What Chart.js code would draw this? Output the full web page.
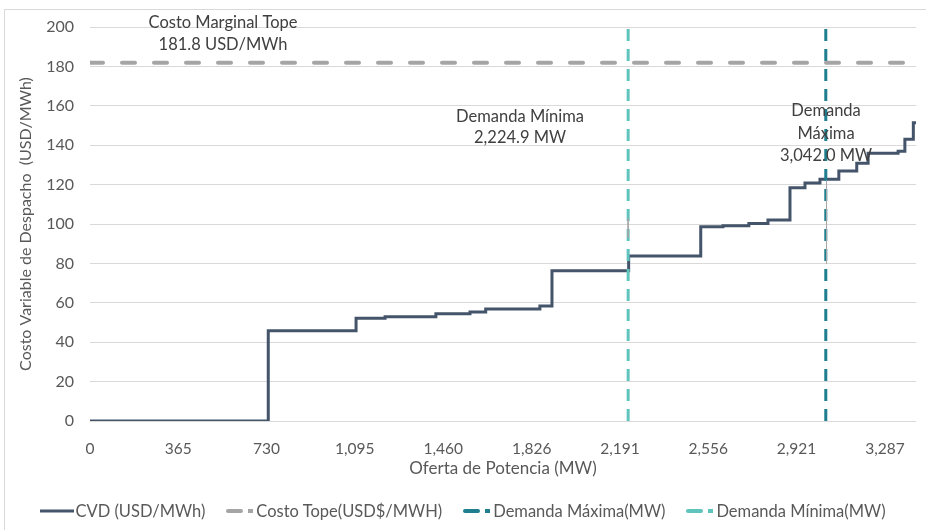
<!DOCTYPE html>
<html>
<head>
<meta charset="utf-8">
<script src="https://cdn.jsdelivr.net/npm/chart.js@4.4.0/dist/chart.umd.min.js"></script>
<style>
  body { margin: 0; background: #fff; }
  #wrap { position: relative; width: 926px; height: 530px; overflow: hidden; }
  #frame { position: absolute; left: 4px; top: 9px; width: 960px; height: 560px; border: 1px solid #d9d9d9; }
  #legend { position: absolute; left: 0; right: 0; top: 501px; display: flex; justify-content: center;
            font: 16.5px Lato, sans-serif; color: #595959; }
  .item { display: flex; align-items: center; margin: 0 10px; white-space: nowrap; }
  .item svg { margin-right: 1px; }
</style>
</head>
<body>
<div id="wrap">
  <div id="frame"></div>
  <canvas id="cvdChart"></canvas>
  <div id="legend"></div>
</div>
<script>
// supply curve (step starts), MW and USD/MWh
const supplyMW = [0, 737, 1100, 1220, 1430, 1571, 1636, 1860, 1910, 2227, 2525, 2617, 2724, 2803, 2894, 2956, 3018, 3096, 3170, 3217, 3341, 3369, 3404, 3415];
const cvdValues = [0, 45.8, 52.2, 52.9, 54.4, 55.3, 56.9, 58.4, 76.3, 83.8, 98.6, 99.1, 100.3, 102, 118.4, 120.8, 122.7, 126.9, 130.8, 135.9, 136.9, 143, 151.4, 151.4];

const costoTope = 181.8;
const demandaMinima = 2224.9;
const demandaMaxima = 3042.0;

const xTicks = [0, 365, 730, 1095, 1460, 1826, 2191, 2556, 2921, 3287];
const xMax = 3415;
const yMax = 200;

const colors = {
  cvd: "#44546a",
  tope: "#a5a5a5",
  dMax: "#1f7f8e",
  dMin: "#5ec4bd",
};

// text notes in data coordinates
const notes = [
  { x: 550, y: 202.1, gap: 22, lines: ["Costo Marginal Tope", "181.8 USD/MWh"] },
  { x: 1778, y: 154.6, gap: 21, lines: ["Demanda Mínima", "2,224.9 MW"] },
  { x: 3043, y: 157.5, gap: 22.5, lines: ["Demanda", "Máxima", "3,042.0 MW"] },
];

const notesPlugin = {
  id: "notes",
  afterDatasetsDraw(chart) {
    const { ctx, scales: { x, y } } = chart;
    ctx.save();
    ctx.font = "16.5px Lato";
    ctx.fillStyle = "#404040";
    ctx.textAlign = "center";
    ctx.textBaseline = "middle";
    notes.forEach((n) => {
      const px = x.getPixelForValue(n.x);
      const py = y.getPixelForValue(n.y);
      n.lines.forEach((t, i) => ctx.fillText(t, px, py + i * n.gap));
    });
    ctx.restore();
  },
};

const cvdData = supplyMW.map((mw, i) => ({ x: mw, y: cvdValues[i] }));

new Chart(document.getElementById("cvdChart"), {
  type: "line",
  data: {
    datasets: [
      {
        label: "Costo Tope(USD$/MWH)",
        data: [{ x: 0, y: costoTope }, { x: xMax, y: costoTope }],
        borderColor: colors.tope,
        borderWidth: 4,
        borderDash: [13, 19],
        borderCapStyle: "round",
        pointRadius: 0,
      },
      {
        label: "leaders",
        data: [{ x: demandaMaxima + 3, y: 122 }, { x: demandaMaxima + 3, y: 80 }, { x: NaN, y: NaN },
               { x: demandaMinima, y: 103 }, { x: demandaMinima, y: 93 }],
        borderColor: "#a6a6a6",
        borderWidth: 1,
        pointRadius: 0,
        spanGaps: false,
      },
      {
        label: "Demanda Máxima(MW)",
        data: [{ x: demandaMaxima, y: 0 }, { x: demandaMaxima, y: yMax }],
        borderColor: colors.dMax,
        borderWidth: 3,
        borderDash: [12, 8],
        pointRadius: 0,
      },
      {
        label: "Demanda Mínima(MW)",
        data: [{ x: demandaMinima, y: 0 }, { x: demandaMinima, y: yMax }],
        borderColor: colors.dMin,
        borderWidth: 3,
        borderDash: [12, 8],
        pointRadius: 0,
      },
      {
        label: "CVD (USD/MWh)",
        data: cvdData,
        borderColor: colors.cvd,
        borderWidth: 3,
        stepped: "before",
        pointRadius: 0,
        borderJoinStyle: "miter",
      },
    ],
  },
  options: {
    responsive: true,
    maintainAspectRatio: false,
    animation: false,
    layout: { padding: { left: 0, right: 10, top: 27, bottom: 51 } },
    scales: {
      x: {
        type: "linear",
        min: 0,
        max: xMax,
        afterBuildTicks: (scale) => { scale.ticks = xTicks.map((v) => ({ value: v })); },
        afterFit: (scale) => { scale.height = 58; },
        grid: { display: false },
        border: { display: false },
        ticks: {
          autoSkip: false,
          maxRotation: 0,
          padding: 11,
          color: "#595959",
          font: { family: "Lato", size: 15.5 },
          callback: (v) => Number(v).toLocaleString("en-US"),
        },
        title: {
          display: true,
          text: "Oferta de Potencia (MW)",
          color: "#595959",
          font: { family: "Lato", size: 17 },
          padding: { top: 0, bottom: 0 },
        },
      },
      y: {
        min: 0,
        max: yMax,
        afterFit: (scale) => { scale.width = 90; },
        grid: { color: "#d9d9d9", drawTicks: false },
        border: { display: false },
        ticks: {
          stepSize: 20,
          padding: 16,
          color: "#595959",
          font: { family: "Lato", size: 16 },
        },
        title: {
          display: true,
          text: "Costo Variable de Despacho  (USD/MWh)",
          color: "#595959",
          font: { family: "Lato", size: 16 },
          padding: { top: 16, bottom: 0 },
        },
      },
    },
    plugins: {
      legend: { display: false },
      tooltip: { enabled: false },
    },
  },
  plugins: [notesPlugin],
});

// legend, drawn in the same order as the reference
const legendItems = [
  { text: "CVD (USD/MWh)", color: colors.cvd, dashed: false },
  { text: "Costo Tope(USD$/MWH)", color: colors.tope, dashed: true },
  { text: "Demanda Máxima(MW)", color: colors.dMax, dashed: true },
  { text: "Demanda Mínima(MW)", color: colors.dMin, dashed: true },
];
const legend = document.getElementById("legend");
legendItems.forEach((it) => {
  const sample = it.dashed
    ? `<svg width="30" height="10"><line x1="3" y1="5" x2="16" y2="5" stroke="${it.color}" stroke-width="4" stroke-linecap="round"/><rect x="23" y="3" width="5" height="4" fill="${it.color}"/></svg>`
    : `<svg width="34" height="10"><line x1="0" y1="5" x2="34" y2="5" stroke="${it.color}" stroke-width="3"/></svg>`;
  const el = document.createElement("div");
  el.className = "item";
  el.innerHTML = sample + "<span>" + it.text + "</span>";
  legend.appendChild(el);
});
</script>
</body>
</html>
